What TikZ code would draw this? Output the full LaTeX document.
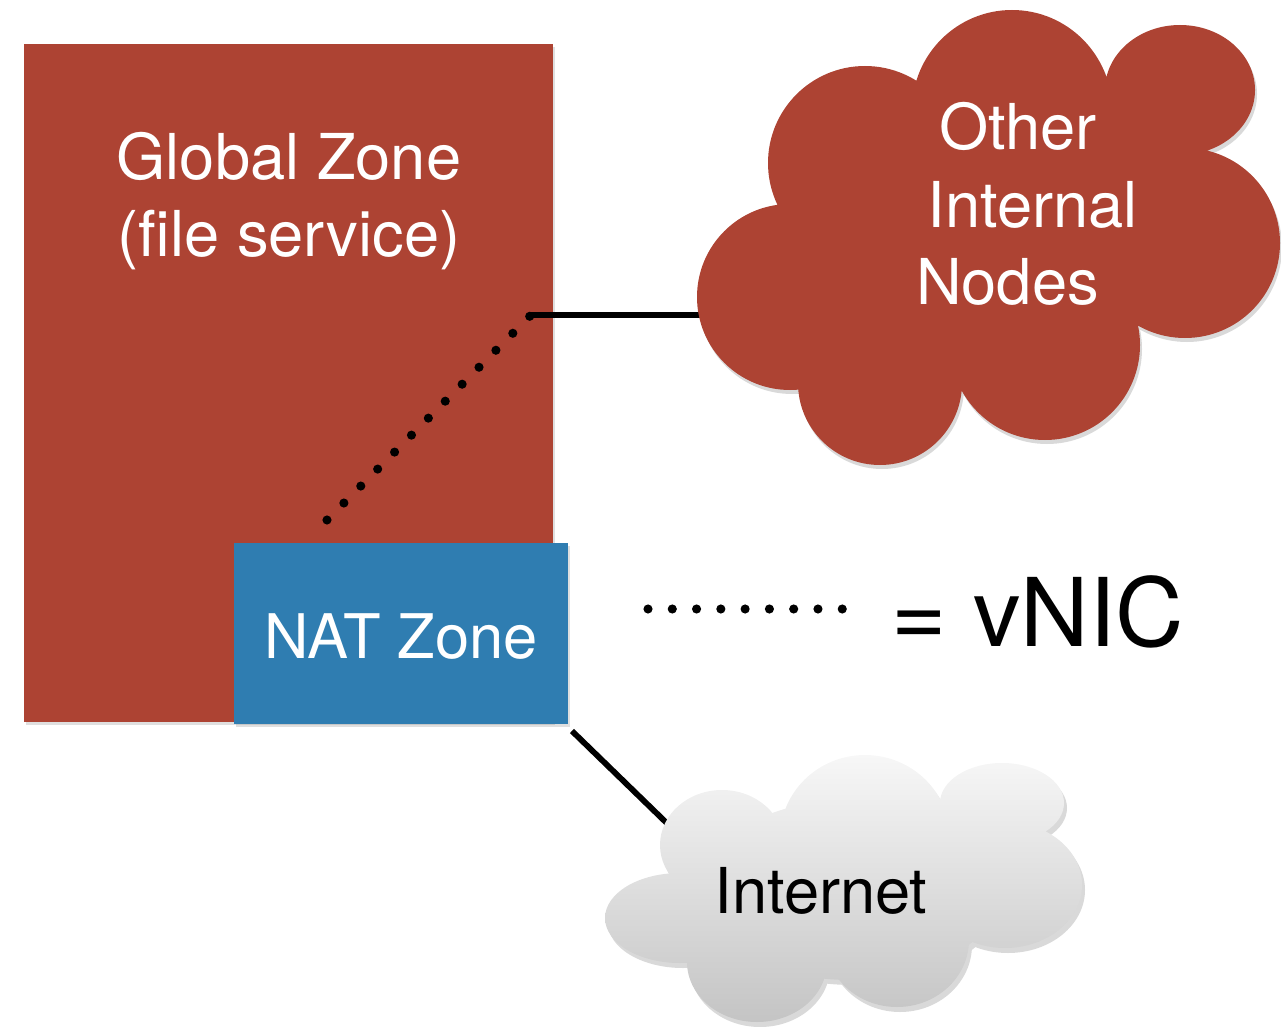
\documentclass[tikz,border=0pt]{standalone}
\usepackage{fontspec}
\setmainfont{TeX Gyre Heros}
\usetikzlibrary{positioning,calc,shadows}
\definecolor{zonered}{RGB}{173,67,51}
\definecolor{natblue}{RGB}{47,125,177}
\definecolor{cloudtop}{RGB}{247,247,247}
\definecolor{cloudbot}{RGB}{196,196,196}

\begin{document}
\begin{tikzpicture}[x=0.02cm, y=-0.02cm,
  zone/.style={fill=#1, inner sep=0pt, outer sep=0pt,
               drop shadow={shadow xshift=1.2pt, shadow yshift=-1.5pt, opacity=0.25}},
  big/.style={font=\fontsize{36}{44}\selectfont, align=center, inner sep=0pt},
  wire/.style={line width=3.3pt, black},
  vnic/.style={line width=5.2pt, black, line cap=round, dash pattern=on 0pt off #1}]
\useasboundingbox (0,0) rectangle (1281,1027);
% zones
\node[zone=zonered, minimum width=10.58cm, minimum height=13.56cm] (gz) at (288.5,383) {};
\node[big, text=white] (gzlabel) at (289,201) {Global Zone\\(file service)};
\coordinate (gzport) at (531,315);
\coordinate (natport) at (327,520);
\draw[vnic=13.63pt] (natport) -- (gzport);
\draw[wire] (gzport) -- (708,315) coordinate (oinport);
\node[zone=natblue, minimum width=6.68cm, minimum height=3.62cm] (nat) at (401,633.5) {};
\node[big, text=white, font=\fontsize{35}{42}\selectfont, anchor=base] (natlabel) at (401,658) {NAT Zone};
\draw[wire] ($(nat.south east)+(4,7)$) -- (678,834) coordinate (inetport);
% other internal nodes
\fill[black, opacity=0.15, shift={(2,4)}]
  (790,297) circle (93) (865,163) circle (97) (1012,110) circle (100)
  (1180,90) ellipse [x radius=75, y radius=65] (1185,243) circle (95)
  (1045,345) circle (95) (880,383) circle (82) (1000,250) circle (140) (1110,175) circle (60);
\fill[zonered]
  (790,297) circle (93) (865,163) circle (97) (1012,110) circle (100)
  (1180,90) ellipse [x radius=75, y radius=65] (1185,243) circle (95)
  (1045,345) circle (95) (880,383) circle (82) (1000,250) circle (140) (1110,175) circle (60);
\node[big, text=white] (oinodes) at (1018,204) {Other\\\hspace*{17pt}Internal\\Nodes\hspace*{12pt}};
% internet
\fill[black, opacity=0.15, shift={(3,5)}]
  (865,838) ellipse [x radius=85, y radius=83] (1002,803) ellipse [x radius=62, y radius=40]
  (1005,885) ellipse [x radius=77, y radius=63] (897,940) ellipse [x radius=72, y radius=67]
  (757,962) ellipse [x radius=70, y radius=60] (680,918) ellipse [x radius=75, y radius=45]
  (722,845) ellipse [x radius=62, y radius=55] (850,890) ellipse [x radius=150, y radius=90];
\shade[top color=cloudtop, bottom color=cloudbot]
  (865,838) ellipse [x radius=85, y radius=83] (1002,803) ellipse [x radius=62, y radius=40]
  (1005,885) ellipse [x radius=77, y radius=63] (897,940) ellipse [x radius=72, y radius=67]
  (757,962) ellipse [x radius=70, y radius=60] (680,918) ellipse [x radius=75, y radius=45]
  (722,845) ellipse [x radius=62, y radius=55] (850,890) ellipse [x radius=150, y radius=90];
\node[big, anchor=base] (inet) at (821,913) {Internet};
% legend
\coordinate (legl) at (648,609);
\coordinate (legr) at (843,609);
\draw[vnic=13.82pt] (legl) -- (legr);
\node[big, font=\fontsize{54}{60}\selectfont, anchor=base] (vniclabel) at (1038,646) {= vNIC};
\end{tikzpicture}
\end{document}
